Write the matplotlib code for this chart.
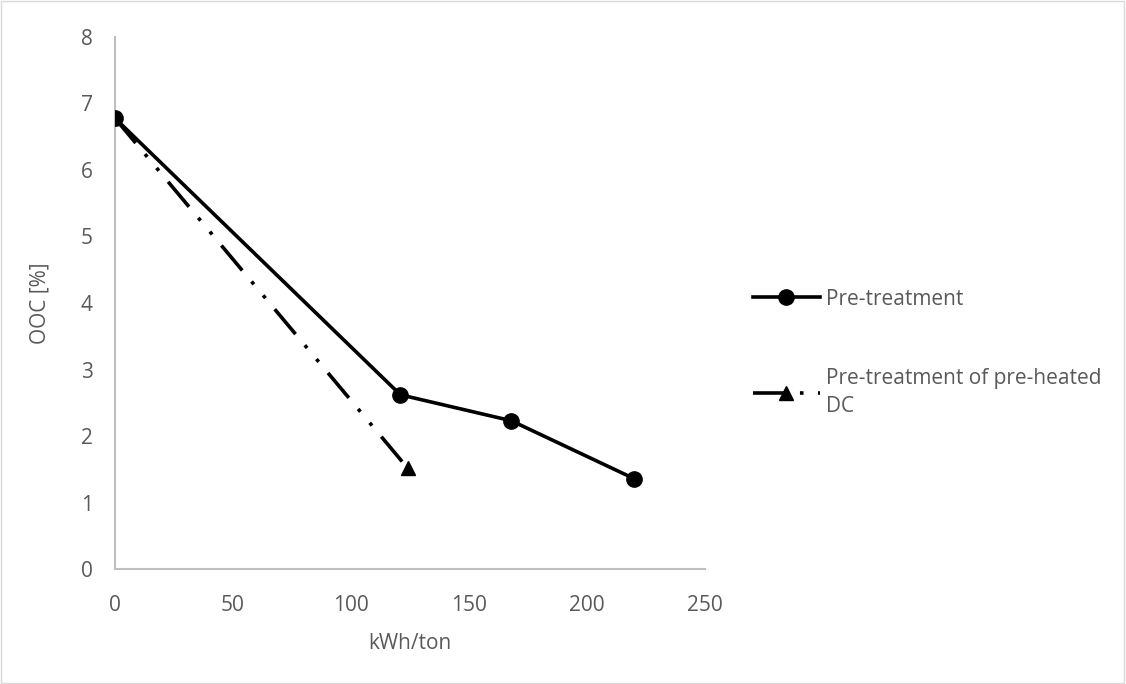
import matplotlib
matplotlib.use("Agg")
import matplotlib.pyplot as plt
from matplotlib.patches import Rectangle

plt.rcParams['font.family'] = ['Open Sans', 'DejaVu Sans']

x_pre = [0, 121, 168, 220]
y_pre = [6.78, 2.62, 2.23, 1.36]
x_heat = [0, 124]
y_heat = [6.78, 1.52]
label_pre = "Pre-treatment"
label_heat = "Pre-treatment of pre-heated\nDC"
xticks = [0, 50, 100, 150, 200, 250]
yticks = [0, 1, 2, 3, 4, 5, 6, 7, 8]

fig = plt.figure(figsize=(11.26, 6.84), dpi=100)
ax = fig.add_axes([0.102, 0.168, 0.524, 0.778])
gray = '#595959'

ax.plot(x_pre, y_pre, color='black', lw=2.6, marker='o', markersize=11,
        label=label_pre, zorder=3)
ax.plot(x_heat, y_heat, color='black', lw=2.6, marker='^', markersize=10,
        dashes=(9, 4, 1, 4, 1, 4), label=label_heat, zorder=3)

ax.set_xlim(0, 250)
ax.set_ylim(0, 8)
ax.set_xticks(xticks)
ax.set_yticks(yticks)
ax.tick_params(length=0, labelsize=15, colors=gray)
ax.tick_params(axis='x', pad=19)
ax.tick_params(axis='y', pad=16)
for s in ['top', 'right']:
    ax.spines[s].set_visible(False)
for s in ['left', 'bottom']:
    ax.spines[s].set_color('#bfbfbf')
    ax.spines[s].set_linewidth(1.5)
ax.set_xlabel('kWh/ton', fontsize=15, color=gray, labelpad=12)
ax.set_ylabel('OOC [%]', fontsize=15, color=gray, labelpad=22)

leg = ax.legend(loc='upper left', bbox_to_anchor=(1.05, 0.562), frameon=False,
                fontsize=15, handlelength=3.2, labelspacing=2.8,
                handletextpad=0.3, labelcolor=gray)
for t in leg.get_texts():
    t.set_linespacing(1.45)

fig.patches.append(Rectangle((0.001, 0.001), 0.997, 0.997, transform=fig.transFigure,
                             fill=False, edgecolor='#d9d9d9', lw=1))
fig.savefig('out.png', dpi=100)
